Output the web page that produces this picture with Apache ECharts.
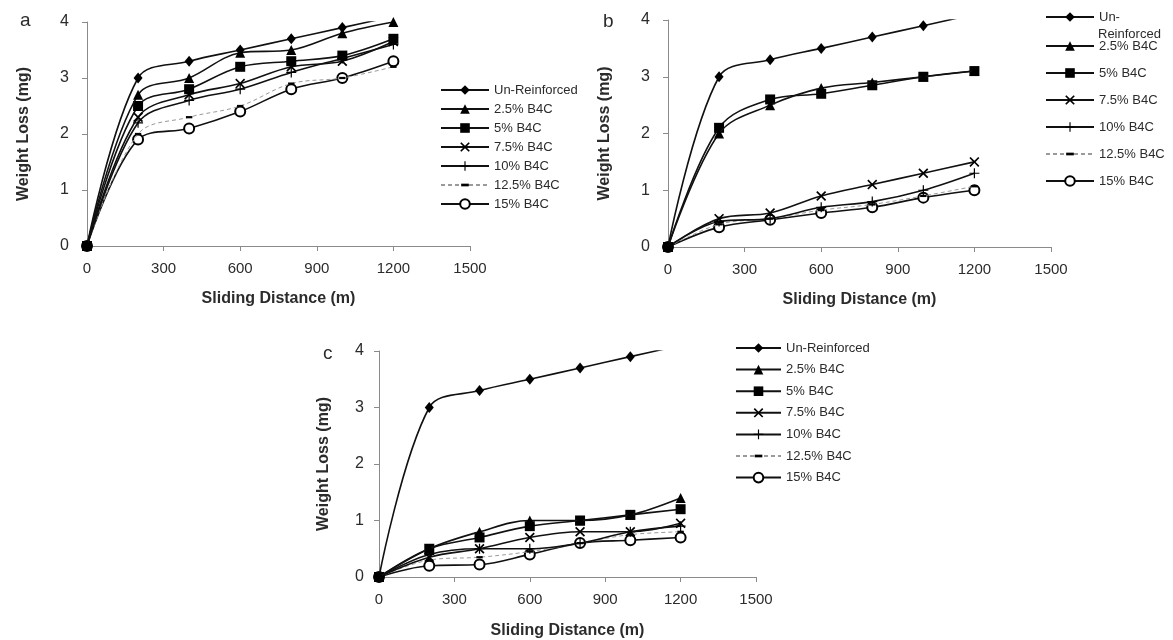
<!DOCTYPE html>
<html>
<head>
<meta charset="utf-8">
<script src="https://cdn.jsdelivr.net/npm/echarts@6/dist/echarts.min.js"></script>
<style>
html,body{margin:0;padding:0;background:#fff;}
#chart{width:1173px;height:640px;}
</style>
</head>
<body>
<div id="chart"></div>
<script>
// ---- data ----
const distances = [0, 200, 400, 600, 800, 1000, 1200];
const seriesNames = ['Un-Reinforced', '2.5% B4C', '5% B4C', '7.5% B4C', '10% B4C', '12.5% B4C', '15% B4C'];
const xTicks = [0, 300, 600, 900, 1200, 1500];
const yTicks = [0, 1, 2, 3, 4];

// panel a
const a_unreinforced = [0, 3.0, 3.3, 3.5, 3.7, 3.9, 4.1];
const a_b4c25  = [0, 2.7, 3.0, 3.45, 3.5, 3.8, 4.0];
const a_b4c5   = [0, 2.5, 2.8, 3.2, 3.3, 3.4, 3.7];
const a_b4c75  = [0, 2.3, 2.7, 2.9, 3.2, 3.3, 3.65];
const a_b4c10  = [0, 2.2, 2.6, 2.8, 3.1, 3.35, 3.6];
const a_b4c125 = [0, 2.0, 2.3, 2.5, 2.9, 3.0, 3.2];
const a_b4c15  = [0, 1.9, 2.1, 2.4, 2.8, 3.0, 3.3];

// panel b
const b_unreinforced = [0, 3.0, 3.3, 3.5, 3.7, 3.9, 4.1];
const b_b4c25  = [0, 2.0, 2.5, 2.8, 2.9, 3.0, 3.1];
const b_b4c5   = [0, 2.1, 2.6, 2.7, 2.85, 3.0, 3.1];
const b_b4c75  = [0, 0.5, 0.6, 0.9, 1.1, 1.3, 1.5];
const b_b4c10  = [0, 0.45, 0.5, 0.7, 0.8, 1.0, 1.3];
const b_b4c125 = [0, 0.4, 0.5, 0.65, 0.75, 0.9, 1.07];
const b_b4c15  = [0, 0.35, 0.48, 0.6, 0.7, 0.87, 1.0];

// panel c
const c_unreinforced = [0, 3.0, 3.3, 3.5, 3.7, 3.9, 4.1];
const c_b4c25  = [0, 0.5, 0.8, 1.0, 1.0, 1.1, 1.4];
const c_b4c5   = [0, 0.5, 0.7, 0.9, 1.0, 1.1, 1.2];
const c_b4c75  = [0, 0.35, 0.5, 0.7, 0.8, 0.8, 0.95];
const c_b4c10  = [0, 0.4, 0.5, 0.5, 0.6, 0.8, 0.9];
const c_b4c125 = [0, 0.3, 0.35, 0.45, 0.6, 0.75, 0.8];
const c_b4c15  = [0, 0.2, 0.22, 0.4, 0.6, 0.65, 0.7];

const panels = [
  {label: 'a', values: [a_unreinforced, a_b4c25, a_b4c5, a_b4c75, a_b4c10, a_b4c125, a_b4c15]},
  {label: 'b', values: [b_unreinforced, b_b4c25, b_b4c5, b_b4c75, b_b4c10, b_b4c125, b_b4c15]},
  {label: 'c', values: [c_unreinforced, c_b4c25, c_b4c5, c_b4c75, c_b4c10, c_b4c125, c_b4c15]}
];

// ---- styles ----
const FONT = '"Liberation Sans", Arial, sans-serif';
const AX = '#8a8a8a';
const TXT = '#2b2b2b';
const xPath = 'path://M0,1.2 L1.2,0 L5,3.8 L8.8,0 L10,1.2 L6.2,5 L10,8.8 L8.8,10 L5,6.2 L1.2,10 L0,8.8 L3.8,5 Z';
const plusPath = 'path://M4.4,0 H5.6 V4.4 H10 V5.6 H5.6 V10 H4.4 V5.6 H0 V4.4 H4.4 Z';
const dashPath = 'path://M0,0 M1,3.6 H9 V6.4 H1 Z M10,10';
const styles = [
  {symbol: 'diamond', size: [9, 11]},
  {symbol: 'triangle', size: [10, 10]},
  {symbol: 'rect', size: [10, 10]},
  {symbol: xPath, size: [10, 10]},
  {symbol: plusPath, size: [10, 10]},
  {symbol: dashPath, size: [8, 8], dashed: true},
  {symbol: 'emptyCircle', size: [10, 10]}
];

const grids = [
  {left: 87, top: 22, width: 383, height: 224},
  {left: 668, top: 20, width: 383, height: 227},
  {left: 379, top: 351, width: 377, height: 226}
];
const titlePos = [
  {left: 15, top: 6},
  {left: 598, top: 7},
  {left: 318, top: 339}
];

function makeLegend(names, left, top, itemGap, itemWidth, fmt) {
  return {
    orient: 'vertical', left: left, top: top, padding: 0,
    itemGap: itemGap, itemWidth: itemWidth, itemHeight: 12,
    data: names, selectedMode: false,
    formatter: fmt || (n => n),
    textStyle: {fontFamily: FONT, fontSize: 13, color: TXT, lineHeight: 14}
  };
}

const option = {
  animation: false,
  backgroundColor: '#fff',
  textStyle: {fontFamily: FONT},
  title: panels.map((p, i) => ({
    text: p.label, left: titlePos[i].left, top: titlePos[i].top,
    textStyle: {fontFamily: FONT, fontSize: 19, fontWeight: 'normal', color: TXT}
  })),
  grid: grids.map(g => Object.assign({containLabel: false}, g)),
  xAxis: grids.map((g, i) => ({
    type: 'value', gridIndex: i, min: xTicks[0], max: xTicks[xTicks.length - 1], interval: xTicks[1] - xTicks[0],
    name: 'Sliding Distance (m)', nameLocation: 'middle', nameGap: i === 2 ? 46 : 45,
    nameTextStyle: {fontFamily: FONT, fontSize: 16, fontWeight: 'bold', color: TXT},
    axisLine: {show: true, lineStyle: {color: AX, width: 1}},
    axisTick: {show: true, length: 5, lineStyle: {color: AX}},
    axisLabel: {fontFamily: FONT, fontSize: 15, color: TXT, margin: 15, formatter: v => String(v)},
    splitLine: {show: false}
  })),
  yAxis: grids.map((g, i) => ({
    type: 'value', gridIndex: i, min: yTicks[0], max: yTicks[yTicks.length - 1], interval: 1,
    name: 'Weight Loss (mg)', nameLocation: 'middle', nameGap: i === 2 ? 47 : 55, nameRotate: 90,
    nameTextStyle: {fontFamily: FONT, fontSize: 16, fontWeight: 'bold', color: TXT},
    axisLine: {show: true, lineStyle: {color: AX, width: 1}},
    axisTick: {show: true, length: 5, lineStyle: {color: AX}},
    axisLabel: {fontFamily: FONT, fontSize: 16, color: TXT, margin: i === 2 ? 15 : 18},
    splitLine: {show: false}
  })),
  legend: [
    makeLegend(seriesNames, 440, 83, 5, 48),
    makeLegend([seriesNames[0]], 1045, 10, 0, 48, () => 'Un-'),
    makeLegend(seriesNames.slice(1), 1045, 39, 13, 48),
    makeLegend(seriesNames, 735, 341, 7.6, 45)
  ],
  graphic: [{
    type: 'text', left: 1098, top: 28,
    style: {text: 'Reinforced', font: '13px ' + FONT, fill: TXT}
  }],
  series: []
};

panels.forEach((p, pi) => {
  p.values.forEach((vals, si) => {
    const st = styles[si];
    option.series.push({
      type: 'line',
      name: seriesNames[si],
      xAxisIndex: pi, yAxisIndex: pi,
      data: distances.map((d, k) => [d, vals[k]]),
      smooth: 0.35,
      clip: true,
      symbol: st.symbol,
      symbolSize: st.size,
      showAllSymbol: true,
      itemStyle: {color: '#000', borderColor: '#000', borderWidth: st.symbol === 'emptyCircle' ? 1.3 : 0},
      lineStyle: st.dashed ? {color: '#9a9a9a', width: 1, type: [4, 3]} : {color: '#111', width: 1.6},
      z: 10 - si
    });
  });
});

const chart = echarts.init(document.getElementById('chart'), null, {renderer: 'canvas'});
chart.setOption(option);
</script>
</body>
</html>
